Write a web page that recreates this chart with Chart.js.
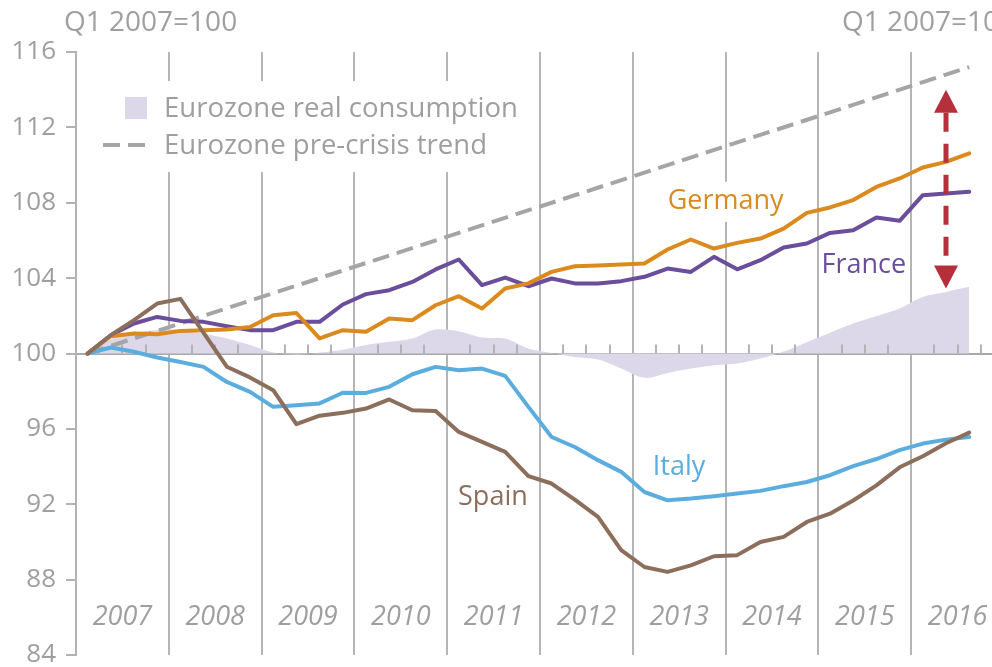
<!DOCTYPE html>
<html><head><meta charset="utf-8">
<script src="https://cdn.jsdelivr.net/npm/chart.js@4/dist/chart.umd.min.js"></script>
<style>
html,body{margin:0;padding:0;background:#fff;overflow:hidden;width:992px;height:667px}
#wrap{position:absolute;left:0;top:0;width:1010px;height:667px}
</style></head><body>
<div id="wrap"><canvas id="c" width="1010" height="667"></canvas></div>
<script>
// ---------- data (quarterly, Q1 2007 = 100) ----------
const yearLabels = ['2007','2008','2009','2010','2011','2012','2013','2014','2015','2016'];
const quarters = yearLabels.flatMap(y => ['Q1','Q2','Q3','Q4'].map(q => y + ' ' + q)).slice(0, 39);
const yTicks = [84, 88, 92, 96, 100, 104, 108, 112, 116];

const eurozone = [100, 100.75, 101.1, 101.25, 101.25, 101.05, 100.8, 100.45, 100.05, 99.95,
  100.05, 100.2, 100.45, 100.62, 100.8, 101.27, 101.18, 100.85, 100.8, 100.27,
  100.03, 99.82, 99.68, 99.2, 98.71, 98.97, 99.2, 99.38, 99.47, 99.73,
  100.1, 100.6, 101.1, 101.59, 101.98, 102.39, 103.0, 103.27, 103.54];
const germany = [100, 100.92, 101.06, 101.02, 101.2, 101.24, 101.27, 101.41, 102.03, 102.15,
  100.8, 101.24, 101.15, 101.86, 101.77, 102.56, 103.04, 102.39, 103.45, 103.72,
  104.33, 104.63, 104.67, 104.72, 104.78, 105.52, 106.05, 105.57, 105.87, 106.1,
  106.63, 107.46, 107.75, 108.14, 108.84, 109.29, 109.87, 110.17, 110.62];
const france = [100, 100.97, 101.59, 101.94, 101.73, 101.68, 101.45, 101.24, 101.24, 101.68,
  101.68, 102.6, 103.15, 103.36, 103.8, 104.46, 104.99, 103.63, 104.03, 103.57,
  103.98, 103.72, 103.72, 103.84, 104.07, 104.51, 104.33, 105.13, 104.47, 104.95,
  105.63, 105.84, 106.4, 106.54, 107.22, 107.04, 108.4, 108.49, 108.58];
const italy = [100, 100.32, 100.09, 99.79, 99.55, 99.29, 98.49, 97.96, 97.17, 97.26,
  97.35, 97.92, 97.91, 98.23, 98.9, 99.29, 99.11, 99.2, 98.81, 97.17,
  95.57, 95.04, 94.34, 93.72, 92.65, 92.21, 92.3, 92.43, 92.57, 92.71,
  92.96, 93.18, 93.54, 94.02, 94.4, 94.87, 95.22, 95.43, 95.57];
const spain = [100, 100.97, 101.77, 102.65, 102.9, 101.1, 99.3, 98.73, 98.05, 96.25,
  96.7, 96.85, 97.08, 97.56, 96.99, 96.95, 95.84, 95.31, 94.78, 93.49,
  93.1, 92.25, 91.33, 89.56, 88.67, 88.41, 88.76, 89.24, 89.3, 90.0,
  90.27, 91.06, 91.5, 92.2, 93.0, 93.96, 94.55, 95.24, 95.8];
// pre-crisis trend: its two end points
const trendQuarterIdx = [0, 38];
const trendValues = [100, 115.2];
// gap arrow (quarter index, from value, to value)
const arrowQuarterIdx = [37];
const arrowRange = [103.45, 114.0];

// ---------- styles ----------
const COL = {
  germany: '#db8a1d', france: '#6a4d9b', italy: '#5badde', spain: '#8c6e5c',
  area: '#dcd7e9', trend: '#a5a5a5', arrow: '#b5303b',
  axis: '#b3b3b3', grid: '#b5b5b5', text: '#9f9f9f'
};
const FONT = '"Open Sans", sans-serif';

const pts = arr => arr.map((v, i) => ({x: i, y: v}));
const yearBounds = yearLabels.slice(1).map((_, k) => 4 * (k + 1) - 0.5);

function lineDs(label, data, color, order) {
  return {label, data: pts(data), borderColor: color, borderWidth: 4, pointRadius: 0,
    fill: false, tension: 0, order, borderJoinStyle: 'round', borderCapStyle: 'round'};
}

const decor = {
  id: 'decor',
  beforeDatasetsDraw(chart) {
    const {ctx, scales: {x, y}} = chart;
    ctx.save();
    // white legend backing (interrupts grid lines)
    ctx.fillStyle = '#fff';
    ctx.fillRect(92, 81, 436, 91);
    // white backing for Germany label
    ctx.fillRect(x.getPixelForValue(27.5) - 62, y.getPixelForValue(108.05) - 20, 124, 40);
    // legend
    ctx.fillStyle = COL.area;
    ctx.fillRect(125, 97, 22, 22);
    ctx.strokeStyle = COL.trend; ctx.lineWidth = 4; ctx.setLineDash([17, 8]);
    ctx.beginPath(); ctx.moveTo(103, 145); ctx.lineTo(147, 145); ctx.stroke();
    ctx.setLineDash([]);
    ctx.fillStyle = COL.text; ctx.font = '27.5px ' + FONT;
    ctx.textAlign = 'left'; ctx.textBaseline = 'middle';
    ctx.fillText('Eurozone real consumption', 164, 109);
    ctx.fillText('Eurozone pre-crisis trend', 164, 146);
    // header units
    ctx.font = '28px ' + FONT;
    ctx.fillText('Q1 2007=100', 64, 23);
    ctx.fillText('Q1 2007=100', 842, 23);
    // year labels
    ctx.font = 'italic 27px ' + FONT;
    ctx.textAlign = 'center';
    yearLabels.forEach((lab, k) => ctx.fillText(lab, x.getPixelForValue(4 * k + 1.5), 617));
    ctx.restore();
  },
  afterDatasetDraw(chart, args) {
    if (args.index !== 0) return;
    const {ctx, scales: {x, y}} = chart;
    const y0 = y.getPixelForValue(100);
    ctx.save();
    ctx.strokeStyle = COL.axis; ctx.lineWidth = 2;
    ctx.beginPath();
    for (let i = 1; i < 40; i++) {
      if (i % 4 === 0) continue;
      const px = Math.round(x.getPixelForValue(i - 0.5));
      ctx.moveTo(px, y0 - 9); ctx.lineTo(px, y0);
    }
    ctx.stroke();
    ctx.restore();
  },
  afterDatasetsDraw(chart) {
    const {ctx, scales: {x, y}} = chart;
    ctx.save();
    // country labels
    ctx.font = '27px ' + FONT; ctx.textAlign = 'center'; ctx.textBaseline = 'middle';
    const labs = [['Germany', 27.5, 108.05, COL.germany], ['France', 33.46, 104.69, COL.france],
      ['Italy', 25.49, 93.98, COL.italy], ['Spain', 17.47, 92.39, COL.spain]];
    labs.forEach(([t, qx, vy, c]) => { ctx.fillStyle = c; ctx.fillText(t, x.getPixelForValue(qx), y.getPixelForValue(vy)); });
    // arrow
    const ax = x.getPixelForValue(arrowQuarterIdx[0]);
    const yb = y.getPixelForValue(arrowRange[0]);
    const yt = y.getPixelForValue(arrowRange[1]);
    const hl = 23, hw = 12;
    ctx.strokeStyle = COL.arrow; ctx.fillStyle = COL.arrow; ctx.lineWidth = 5;
    ctx.setLineDash([19, 12]);
    ctx.beginPath(); ctx.moveTo(ax, yt + hl); ctx.lineTo(ax, yb - hl); ctx.stroke();
    ctx.setLineDash([]);
    ctx.beginPath(); ctx.moveTo(ax, yt); ctx.lineTo(ax - hw, yt + hl); ctx.lineTo(ax + hw, yt + hl); ctx.closePath(); ctx.fill();
    ctx.beginPath(); ctx.moveTo(ax, yb); ctx.lineTo(ax - hw, yb - hl); ctx.lineTo(ax + hw, yb - hl); ctx.closePath(); ctx.fill();
    ctx.restore();
  }
};

new Chart(document.getElementById('c'), {
  type: 'line',
  data: {
    labels: quarters,
    datasets: [
      {label: 'Eurozone real consumption', data: pts(eurozone), fill: {value: 100},
        backgroundColor: COL.area, borderWidth: 0, pointRadius: 0, tension: 0.35, order: 10},
      {label: 'Eurozone pre-crisis trend', data: trendQuarterIdx.map((q, i) => ({x: q, y: trendValues[i]})),
        borderColor: COL.trend, borderWidth: 4, borderDash: [17, 8], pointRadius: 0, fill: false, order: 9},
      lineDs('Italy', italy, COL.italy, 8),
      lineDs('France', france, COL.france, 7),
      lineDs('Germany', germany, COL.germany, 6),
      lineDs('Spain', spain, COL.spain, 5)
    ]
  },
  options: {
    responsive: false, animation: false,
    layout: {padding: {top: 52, right: 6, bottom: 12, left: 0}},
    plugins: {legend: {display: false}, tooltip: {enabled: false}},
    scales: {
      x: {
        type: 'linear', min: -0.5, max: 39.5,
        afterBuildTicks: s => { s.ticks = yearBounds.map(v => ({value: v})); },
        afterFit: s => { s.height = 0; },
        ticks: {display: false},
        grid: {color: COL.grid, lineWidth: 2, drawTicks: false},
        border: {display: false}
      },
      y: {
        min: 84, max: 116,
        afterBuildTicks: s => { s.ticks = yTicks.map(v => ({value: v})); },
        afterFit: s => { s.width = 76; s.paddingTop = 0; s.paddingBottom = 0; },
        ticks: {color: COL.text, font: {family: FONT, size: 26}, padding: 10},
        grid: {
          color: c => (c.tick && c.tick.value === 100) ? '#a9a9a9' : 'rgba(0,0,0,0)',
          lineWidth: 2, tickLength: 10, tickColor: COL.axis, tickWidth: 2, drawTicks: true
        },
        border: {display: true, color: COL.axis, width: 2}
      }
    }
  },
  plugins: [decor]
});
</script>
</body></html>
